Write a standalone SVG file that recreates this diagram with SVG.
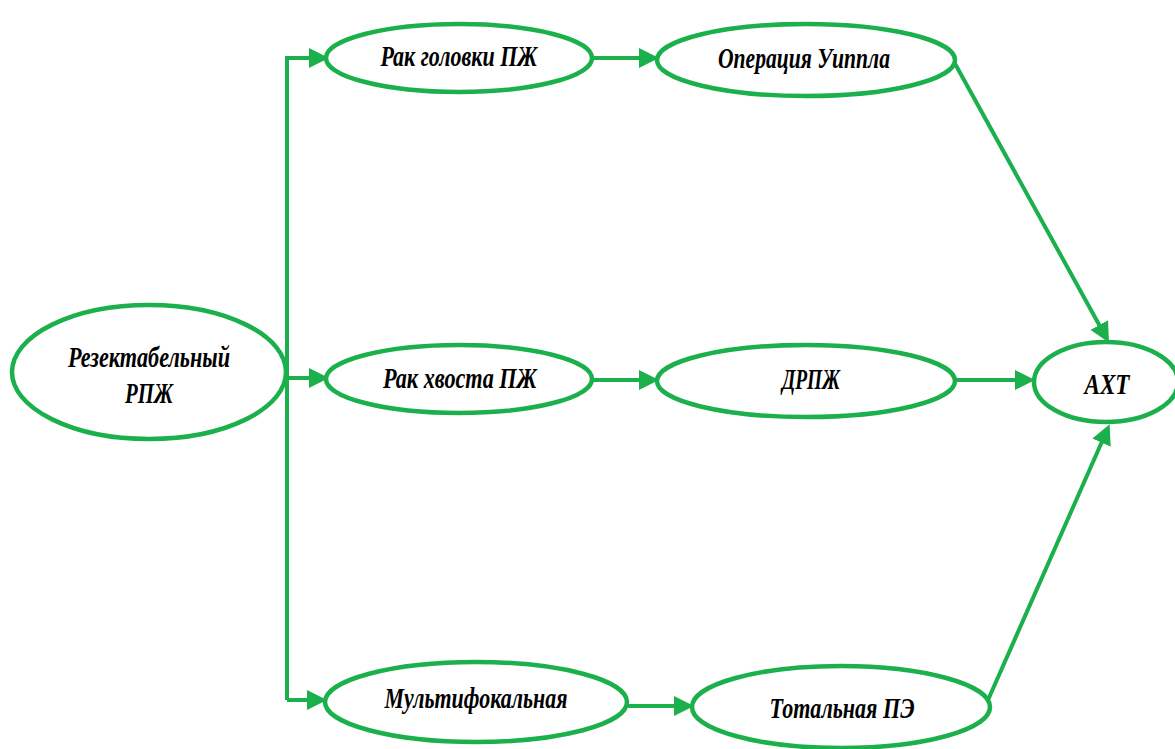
<svg xmlns="http://www.w3.org/2000/svg" width="1175" height="749" viewBox="0 0 1175 749">
<style>
.n{fill:#fff;stroke:#1cb04c;stroke-width:4.5}
.t{font-family:"Liberation Serif","Times New Roman",serif;font-weight:bold;font-style:italic;font-size:29px;fill:#000;text-anchor:middle}
.c{fill:none;stroke:#1cb04c;stroke-width:4}
</style>
<defs>
<marker id="a" markerWidth="5" markerHeight="5" refX="4" refY="2.5" orient="auto" markerUnits="strokeWidth">
<path d="M0,0 L5,2.5 L0,5 Z" fill="#1cb04c"/>
</marker>
</defs>
<rect width="1175" height="749" fill="#fff"/>
<g id="connectors">
<path class="c" d="M287,700 V58 H325" marker-end="url(#a)"/>
<path class="c" d="M287,378 H325" marker-end="url(#a)"/>
<path class="c" d="M287,700 H323" marker-end="url(#a)"/>
<path class="c" d="M592,58 H655" marker-end="url(#a)"/>
<path class="c" d="M592,380 H655" marker-end="url(#a)"/>
<path class="c" d="M955,380 H1031" marker-end="url(#a)"/>
<path class="c" d="M628,706 H690" marker-end="url(#a)"/>
<path class="c" d="M953,60 L1107,339" marker-end="url(#a)"/>
<path class="c" d="M988,700 L1108,428" marker-end="url(#a)"/>
</g>
<g id="n1"><ellipse class="n" cx="149" cy="372" rx="137" ry="67"/>
<text class="t" x="149" y="367" textLength="162" lengthAdjust="spacingAndGlyphs">Резектабельный</text>
<text class="t" x="149" y="403" textLength="48" lengthAdjust="spacingAndGlyphs">РПЖ</text></g>
<g id="n2"><ellipse class="n" cx="459" cy="58" rx="133" ry="34"/>
<text class="t" x="459" y="66" textLength="157" lengthAdjust="spacingAndGlyphs">Рак головки ПЖ</text></g>
<g id="n3"><ellipse class="n" cx="806" cy="60" rx="149" ry="36"/>
<text class="t" x="804" y="68" textLength="172" lengthAdjust="spacingAndGlyphs">Операция Уиппла</text></g>
<g id="n4"><ellipse class="n" cx="459" cy="379" rx="133" ry="34"/>
<text class="t" x="460" y="388" textLength="154" lengthAdjust="spacingAndGlyphs">Рак хвоста ПЖ</text></g>
<g id="n5"><ellipse class="n" cx="806" cy="381" rx="149" ry="36"/>
<text class="t" x="811" y="389" textLength="58" lengthAdjust="spacingAndGlyphs">ДРПЖ</text></g>
<g id="n6"><ellipse class="n" cx="1106" cy="382" rx="72" ry="40"/>
<text class="t" x="1107" y="394" textLength="45" lengthAdjust="spacingAndGlyphs">АХТ</text></g>
<g id="n7"><ellipse class="n" cx="476" cy="702" rx="151" ry="40"/>
<text class="t" x="476" y="708" textLength="183" lengthAdjust="spacingAndGlyphs">Мультифокальная</text></g>
<g id="n8"><ellipse class="n" cx="841" cy="707" rx="149" ry="41"/>
<text class="t" x="842" y="718" textLength="145" lengthAdjust="spacingAndGlyphs">Тотальная ПЭ</text></g>
</svg>
